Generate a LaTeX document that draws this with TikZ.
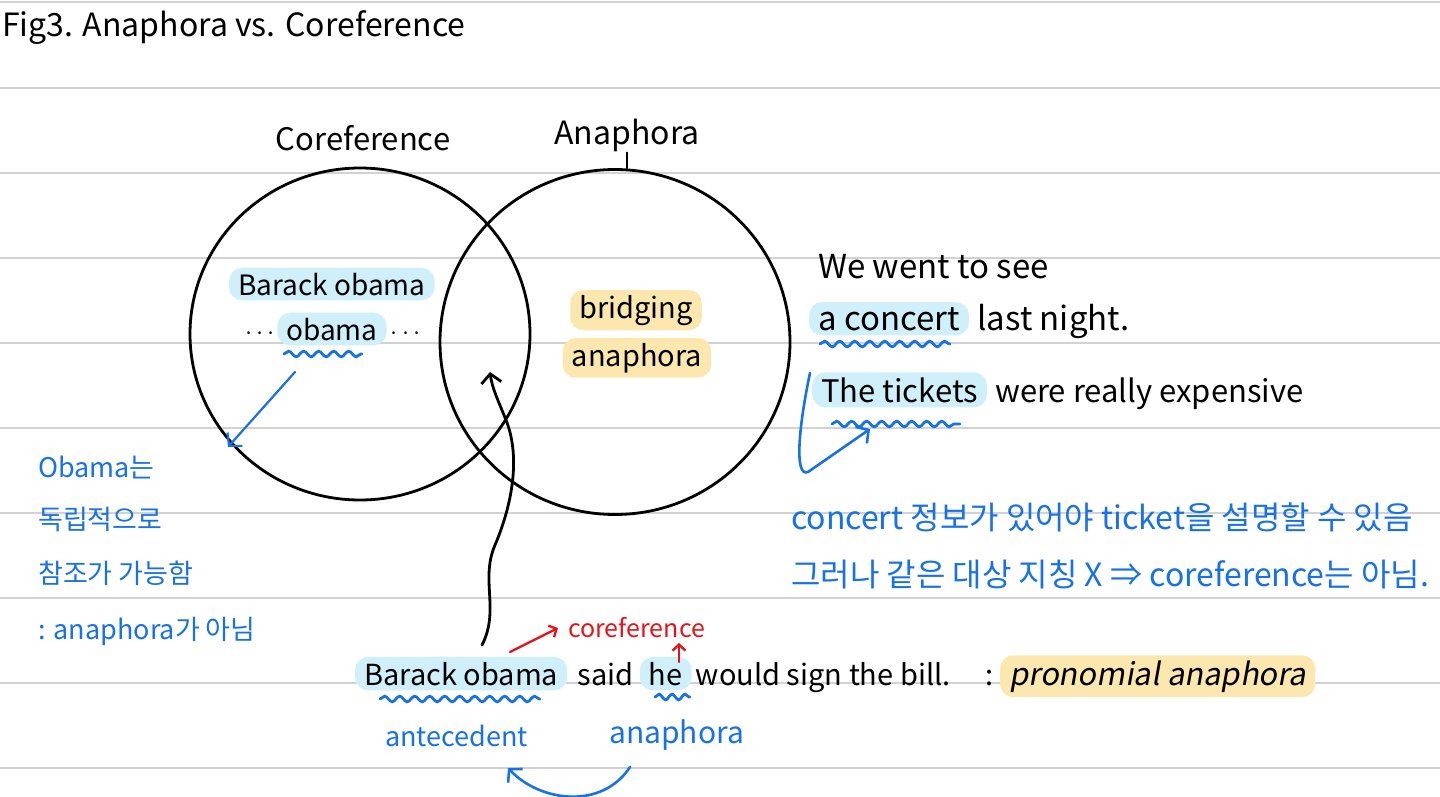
\documentclass[tikz,border=0pt]{standalone}
\usepackage{fontspec}
\setmainfont{Noto Sans CJK KR}
\newfontfamily\slantfont[FakeSlant=0.18]{Noto Sans CJK KR}
\usetikzlibrary{arrows.meta,decorations.pathmorphing,calc,shapes.geometric}
\definecolor{inkblue}{HTML}{1871E6}
\definecolor{inkred}{HTML}{E5141B}
\definecolor{hlblue}{HTML}{CFEFFB}
\definecolor{hlyel}{HTML}{FCE8AE}
\definecolor{rulegray}{HTML}{D2D2D2}
\newcommand\fsz[1]{\fontsize{#1}{#1}\selectfont}
\tikzset{
  txt/.style={inner sep=0pt, anchor=base west, text=black},
  hlb/.style={fill=hlblue, rounded corners=13pt, inner xsep=9pt, inner ysep=5pt, anchor=base west},
  hly/.style={fill=hlyel, rounded corners=13pt, inner xsep=9pt, inner ysep=5pt, anchor=base west},
  ink/.style={line width=2.6pt, line cap=round, line join=round},
  barb/.style={-{Straight Barb[length=9pt,width=20pt]}},
  bluearrow/.style={ink, draw=inkblue, barb},
  redarrow/.style={ink, line width=2.4pt, draw=inkred, -{Straight Barb[length=6pt,width=13pt]}},
  wave/.style={draw=inkblue, line width=2.8pt, line cap=round, decorate,
    decoration={snake, amplitude=2.8pt, segment length=15pt}},
  venn/.style={draw=black, ellipse, line width=2.8pt, inner sep=0pt},
  bluetxt/.style={txt, text=inkblue},
}
\begin{document}
\begin{tikzpicture}[x=1pt,y=-1pt]
\useasboundingbox (0,0) rectangle (1440,797);
\fill[white] (0,0) rectangle (1440,797);
% ruled lines
\foreach \yy in {2,88,173,258,343,428,513,598,683,768}
  \draw[rulegray, line width=1.6pt] (0,\yy) -- (1440,\yy);

% title
\node[txt, font=\fsz{32}] (title) at (2,37) {Fig3. Anaphora vs. Coreference};

% Venn circles
\node[venn, minimum width=340pt, minimum height=332pt] (cc) at (360,334) {};
\node[venn, minimum width=350pt, minimum height=345pt] (ac) at (615,342) {};
\node[txt, anchor=base, font=\fsz{31}] (lc) at (363,150) {Coreference};
\node[txt, anchor=base, font=\fsz{32}] (la) at (627,145) {Anaphora};
\draw[ink, line width=2pt] (la.south) -- (la.south |- ac.north);

% inside left circle
\node[hlb, font=\fsz{28}] (bo1) at (229,295) {Barack obama};
\node[txt, font=\fsz{20}] (dl) at (243,340) {···};
\node[hlb, font=\fsz{28}] (ob) at ([xshift=0pt]dl.base east) {obama};
\node[txt, font=\fsz{20}] (dr) at ([xshift=2pt]ob.base east) {···};
\coordinate (obw0) at (284,354);
\coordinate (obw1) at (362,354);
\draw[wave] (obw0) -- (obw1);
\coordinate (a1s) at (295,372);
\coordinate (a1e) at (228,447);
\draw[bluearrow, line width=2.2pt] (a1s) -- (a1e);

% inside right circle
\node[hly, anchor=base, font=\fsz{29}] (br) at (636,318) {bridging};
\node[hly, anchor=base, font=\fsz{29}] (an) at (637,366) {anaphora};

% left blue notes
\node[bluetxt, font=\fsz{27}] (n1) at (38,477) {Obama는};
\node[bluetxt, font=\fsz{27}] (n2) at (38,529) {독립적으로};
\node[bluetxt, font=\fsz{27}] (n3) at (38,583) {참조가 가능함};
\node[bluetxt, font=\fsz{27}] (n4) at (38,639) {: anaphora가 아님};

% right example
\node[txt, font=\fsz{33}] (r1) at (818,278) {We went to see};
\node[hlb, font=\fsz{33}] (r2a) at (809,330) {a concert};
\node[txt, font=\fsz{33}] (r2b) at ([xshift=8pt]r2a.base east) {last night.};
\node[hlb, font=\fsz{31}] (r3a) at (812,402) {The tickets};
\node[txt, font=\fsz{31}] (r3b) at ([xshift=8pt]r3a.base east) {were really expensive};
\coordinate (cw0) at (820,344);
\coordinate (cw1) at (950,344);
\draw[wave] (cw0) -- (cw1);
\coordinate (tw0) at (832,424);
\coordinate (tw1) at (960,424);
\draw[wave] (tw0) -- (tw1);
\coordinate (c1s) at (810,373);
\coordinate (c1e) at (870,429);
\draw[bluearrow] (c1s) .. controls (800,420) and (793,478) .. (808,472) -- (c1e);

\node[bluetxt, font=\fsz{32}] (k1) at (791,529) {concert 정보가 있어야 ticket을 설명할 수 있음};
\node[bluetxt, font=\fsz{32}] (k2) at (791,586) {그러나 같은 대상 지칭 X ⇒ coreference는 아님.};

% bottom sentence
\node[hlb, font=\fsz{29}] (b1) at (355,685) {Barack obama};
\node[txt, font=\fsz{29}] (b2) at ([xshift=10pt]b1.base east) {said};
\node[hlb, font=\fsz{29}] (b3) at ([xshift=6pt]b2.base east) {he};
\node[txt, font=\fsz{29}] (b4) at ([xshift=4pt]b3.base east) {would sign the bill.};
\node[txt, font=\fsz{29}] (b5) at (985,685) {:};
\node[hly, font=\fsz{31}\slantfont] (b6) at (1000,685) {pronomial anaphora};
\coordinate (bw0) at (380,699);
\coordinate (bw1) at (540,699);
\draw[wave] (bw0) -- (bw1);
\coordinate (hw0) at (655,697);
\coordinate (hw1) at (690,697);
\draw[wave, decoration={snake, amplitude=2.8pt, segment length=13pt}] (hw0) -- (hw1);

\node[bluetxt, font=\fsz{27}] (ant) at (385,746) {antecedent};
\node[bluetxt, font=\fsz{30}] (ana) at (609,743) {anaphora};
\coordinate (ca) at (630,767);
\coordinate (cb) at (508,768);
\draw[bluearrow] (ca) .. controls (602,810) and (540,802) .. (cb);

% red coreference
\node[txt, text=inkred, font=\fsz{25}] (rc) at (568,637) {coreference};
\coordinate (r0) at (510,652);
\coordinate (r0e) at (558,628);
\draw[redarrow] (r0) -- (r0e);
\coordinate (r1s) at (679,662);
\coordinate (r1e) at (679,643);
\draw[redarrow] (r1s) -- (r1e);

% black wavy arrow into intersection
\coordinate (w0) at (482,645);
\coordinate (w1) at (490,372);
\draw[ink, line width=2.8pt, barb] (w0) .. controls (500,610) and (480,580) .. (495,545)
  .. controls (510,510) and (522,460) .. (506,420) .. controls (498,400) and (492,388) .. (w1);
\end{tikzpicture}
\end{document}
